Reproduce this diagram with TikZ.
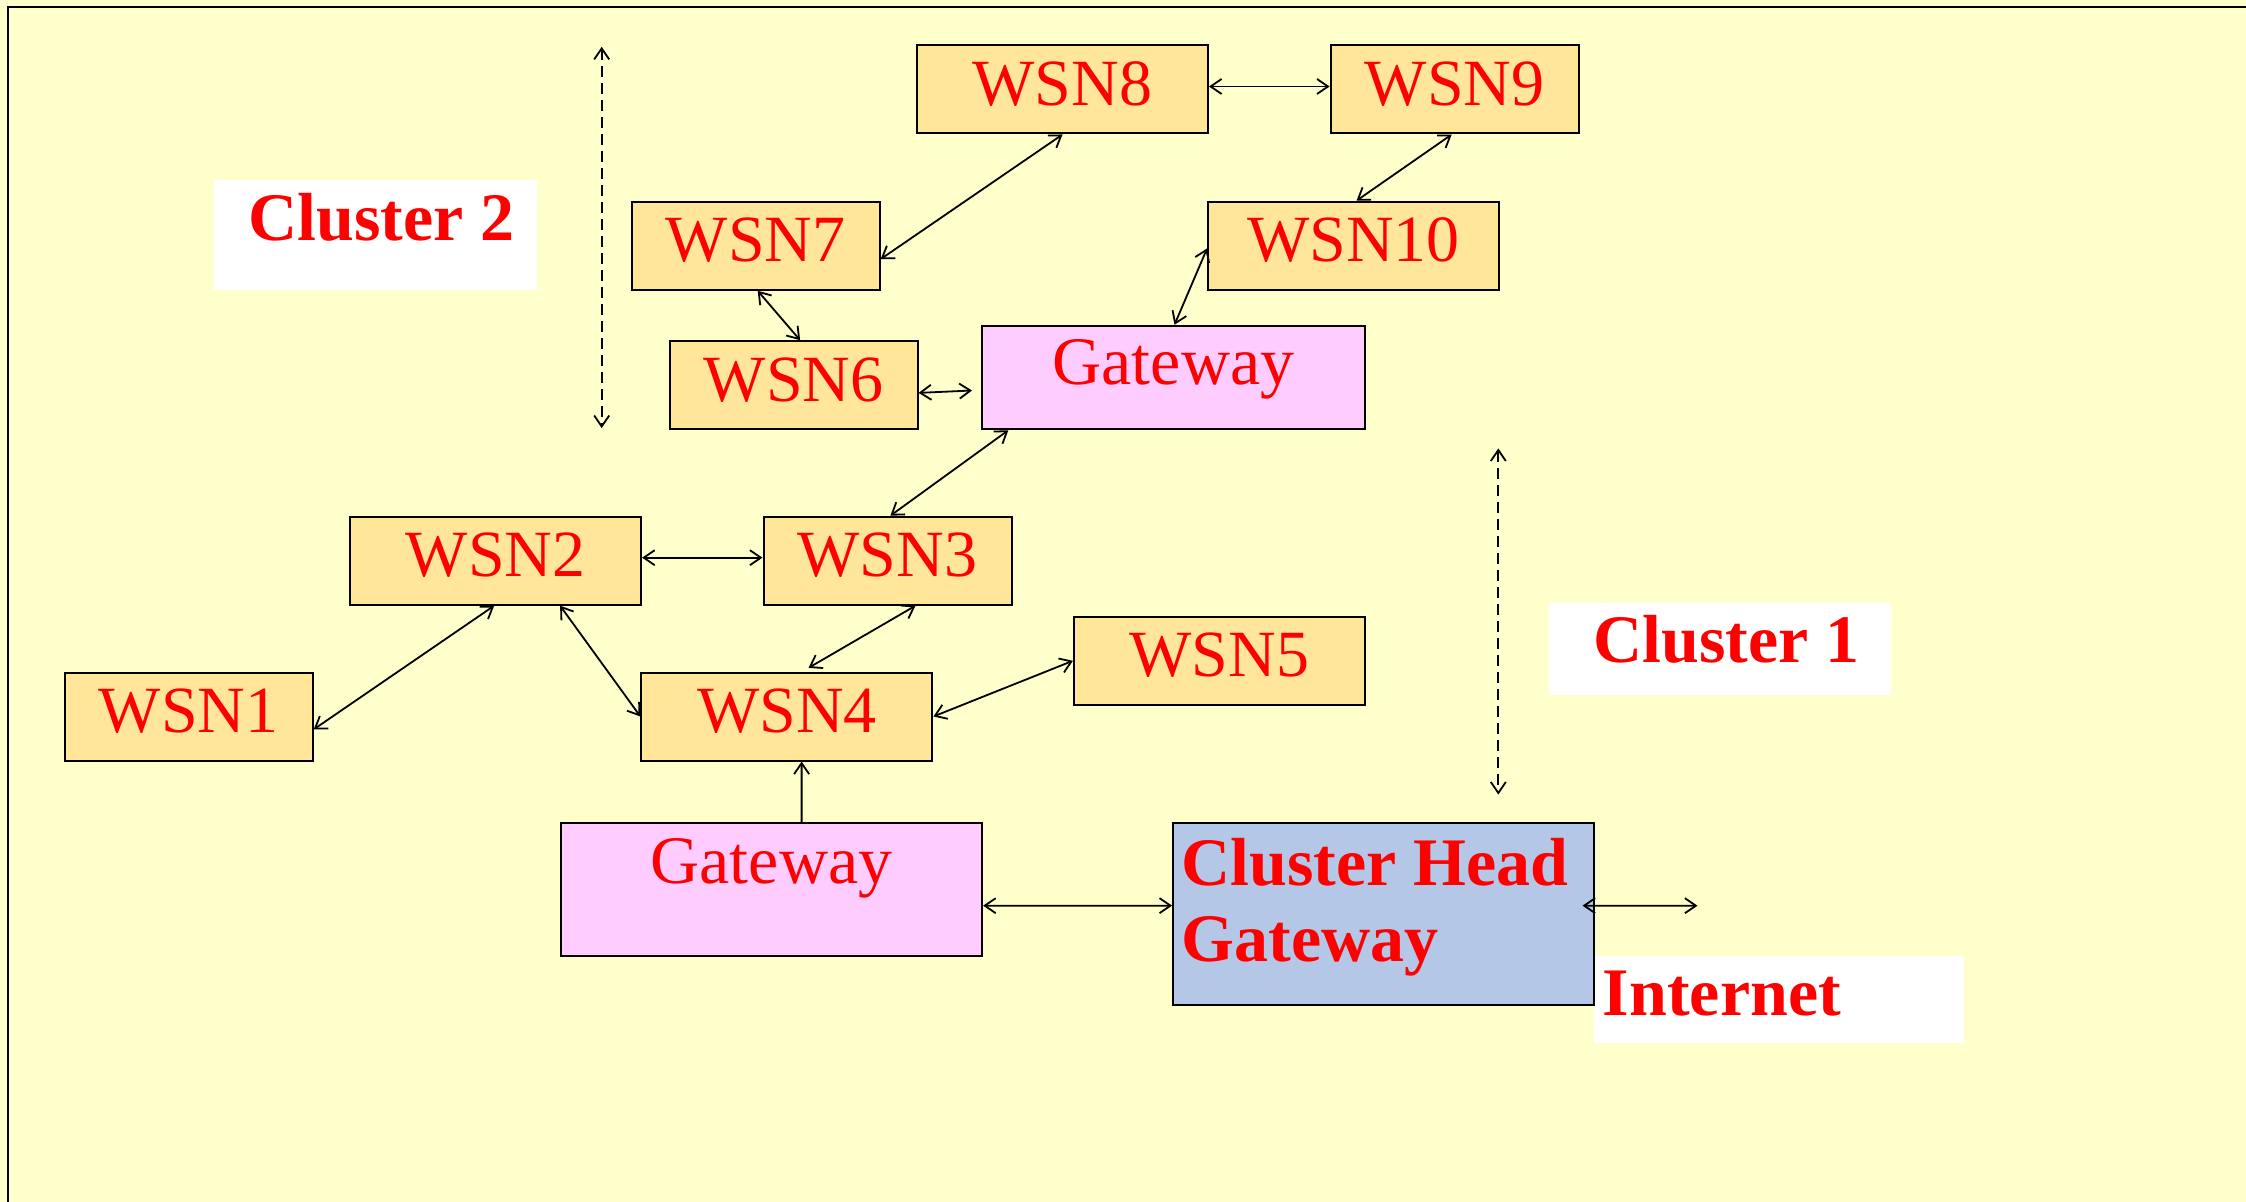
\documentclass[tikz,border=0pt]{standalone}
\usepackage{fontspec}
\setmainfont{Liberation Serif}
\usetikzlibrary{calc,arrows.meta}
\definecolor{bgyellow}{HTML}{FFFFCC}
\definecolor{wsnfill}{HTML}{FFE699}
\definecolor{gwfill}{HTML}{FFCCFF}
\definecolor{chfill}{HTML}{B4C7E7}
\definecolor{txtred}{HTML}{FF0000}
\begin{document}
\begin{tikzpicture}[x=0.5pt,y=-0.5pt,
  wsnbox/.style={draw=black, line width=1pt, fill=wsnfill, text=txtred,
    font=\fontsize{33}{40}\selectfont, inner sep=0pt, text height=30pt, text depth=14pt},
  narrowbox/.style={wsnbox, minimum width=124pt},
  widebox/.style={wsnbox, minimum width=145.5pt},
  gwbox/.style={draw=black, line width=1pt, fill=gwfill, text=txtred,
    font=\fontsize{34}{40}\selectfont, inner sep=0pt},
  chbox/.style={draw=black, line width=1pt, fill=chfill, text=txtred,
    font=\fontsize{34}{38.1}\selectfont\bfseries, inner sep=0pt, inner xsep=4.2pt},
  whitelbl/.style={fill=white, text=txtred, font=\fontsize{34}{40}\selectfont\bfseries, inner sep=0pt},
  conn/.style={line width=0.9pt, {Straight Barb[length=5.5pt,width=7.5pt]}-{Straight Barb[length=5.5pt,width=7.5pt]}},
  oneway/.style={line width=0.9pt, -{Straight Barb[length=5.5pt,width=7.5pt]}},
  dashconn/.style={conn, dash pattern=on 5.5pt off 3pt}
]
\useasboundingbox (0,0) rectangle (2246,1202);
\fill[bgyellow] (0,0) rectangle (2246,1202);
\draw[line width=1pt] (7.5,1215) -- (7.5,7) -- (2260,7);

% white labels
\node[whitelbl, text height=30.3pt, text depth=24.7pt] (lblc2) at (375,235.1)
  {\makebox[161.5pt][l]{\hspace{17.5pt}Cluster 2}};
\node[whitelbl, text height=29.5pt, text depth=16.3pt] (lblc1) at (1719.75,649.1)
  {\makebox[171.25pt][l]{\hspace{22.6pt}Cluster 1}};
\node[whitelbl, text height=30.1pt, text depth=13.4pt] (lblnet) at (1779.15,999)
  {\makebox[184.85pt][l]{\hspace{4.3pt}Internet}};

% sensor nodes
\node[widebox]   (WSN8)  at (1062.5,89.5)  {WSN8};
\node[narrowbox] (WSN9)  at (1454.6,89.5)  {WSN9};
\node[narrowbox] (WSN7)  at (755.7,245.8)  {WSN7};
\node[widebox]   (WSN10) at (1353.6,245.7) {WSN10};
\node[narrowbox] (WSN6)  at (793.6,385.2)  {WSN6};
\node[widebox]   (WSN2)  at (495.6,560.7)  {WSN2};
\node[narrowbox] (WSN3)  at (887.5,560.7)  {WSN3};
\node[narrowbox] (WSN1)  at (188.7,716.5)  {WSN1};
\node[widebox]   (WSN4)  at (786.9,716.5)  {WSN4};
\node[widebox]   (WSN5)  at (1219.4,660.8) {WSN5};

% gateways
\node[gwbox, minimum width=191.5pt, text height=29.6pt, text depth=22.15pt] (GWT) at (1173.5,377.5) {Gateway};
\node[gwbox, minimum width=210.6pt, text height=30.3pt, text depth=36pt] (GWB) at (771.5,889.6) {Gateway};
\node[chbox, minimum width=210.6pt] (CHG) at (1383.7,914.3)
  {\parbox[c][91pt][t]{202.2pt}{\vspace*{7.3pt}Cluster Head\\Gateway}};

% free ends
\coordinate (net) at (1697.5,905.7);
\coordinate (c2top) at (601.7,46.8);
\coordinate (c2bot) at (601.7,428.1);
\coordinate (c1top) at (1498.3,448.4);
\coordinate (c1bot) at (1498.3,794.6);

% connectors
\draw[conn] (WSN8.south) -- ($(WSN7.east)+(0,13.3)$);
\draw[conn] ($(WSN7.south)+(2,0)$) -- ($(WSN6.north)+(6.5,0)$);
\draw[conn, shorten >=4.5pt] ($(WSN6.east)+(0,7.7)$) -- ($(GWT.west)+(0,12.6)$);
\draw[conn] ($(GWT.south west)+(27.3,0)$) -- ($(WSN3.north)+(2.9,0)$);
\draw[conn] ($(WSN8.east)+(0,-3)$) -- ($(WSN9.west)+(0,-3)$);
\draw[conn] ($(WSN9.south)+(-2.9,0)$) -- ($(WSN10.north)+(2.9,0)$);
\draw[conn] ($(WSN10.west)+(0,2.7)$) -- ($(GWT.north)+(1,0)$);
\draw[conn] ($(WSN2.east)+(0,-3)$) -- ($(WSN3.west)+(0,-3)$);
\draw[conn] ($(WSN2.south)+(-1.4,0)$) -- ($(WSN1.east)+(0,12.9)$);
\draw[conn] ($(WSN2.south)+(64.5,0)$) -- (WSN4.west);
\draw[conn, shorten >=3.6pt] ($(WSN3.south)+(28,0)$) -- ($(WSN4.north)+(15.4,0)$);
\draw[conn] (WSN5.west) -- (WSN4.east);
\draw[oneway] ($(GWB.north)+(30.1,0)$) -- ($(WSN4.south)+(14.7,0)$);
\draw[conn] ($(GWB.east)+(0,16.1)$) -- ($(CHG.west)+(0,-8.65)$);
\draw[conn] ($(CHG.east)+(-12.8,-8.65)$) -- (net);
\draw[dashconn] (c2top) -- (c2bot);
\draw[dashconn] (c1top) -- (c1bot);
\end{tikzpicture}
\end{document}
